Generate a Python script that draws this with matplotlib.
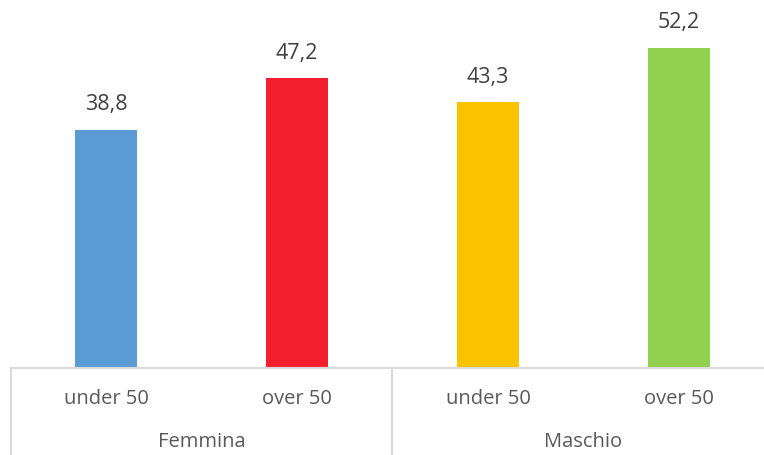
import matplotlib
matplotlib.use("Agg")
import matplotlib.pyplot as plt

groups = ["Femmina", "Maschio"]
subcats = ["under 50", "over 50", "under 50", "over 50"]
values = [38.8, 47.2, 43.3, 52.2]
labels = ["38,8", "47,2", "43,3", "52,2"]
colors = ["#5B9BD5", "#F41F2E", "#FAC300", "#92D050"]

W, H = 764, 455
fig = plt.figure(figsize=(W / 100, H / 100), dpi=100)
ax_left, ax_right = 10.5, 774.5
ax_bottom_px = 367.5
ax = fig.add_axes([ax_left / W, (H - ax_bottom_px) / H, (ax_right - ax_left) / W, ax_bottom_px / H])

x = list(range(len(values)))
ax.bar(x, values, width=0.325, color=colors, zorder=2)
ax.set_xlim(-0.5, len(values) - 0.5)
ax.set_ylim(0, 60)

font = "Open Sans"
for xi, v, lab in zip(x, values, labels):
    ax.annotate(lab, (xi, v), xytext=(0, 18), textcoords="offset points",
                ha="center", va="center", fontsize=15.5, color="#404040", family=font)

for s in ["top", "left", "right"]:
    ax.spines[s].set_visible(False)
ax.spines["bottom"].set_color("#D9D9D9")
ax.spines["bottom"].set_linewidth(1.5)
ax.set_yticks([])
ax.set_xticks([])

ah = ax_bottom_px
trans = ax.get_xaxis_transform()
for xi, lab in zip(x, subcats):
    ax.text(xi, -32 / ah, lab, transform=trans, ha="center", va="center",
            fontsize=14.5, color="#595959", family=font)
for gi, g in enumerate(groups):
    ax.text(2 * gi + 0.5, -74.5 / ah, g, transform=trans, ha="center", va="center",
            fontsize=14.5, color="#595959", family=font)
for sep in [-0.5, 1.5, 3.5]:
    ax.plot([sep, sep], [0, -88 / ah], transform=trans, color="#D9D9D9",
            linewidth=1.5, clip_on=False)

fig.savefig("out.png", dpi=100)
